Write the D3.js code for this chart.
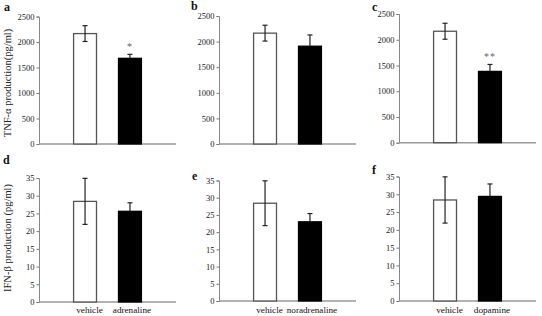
<!DOCTYPE html>
<html><head><meta charset="utf-8">
<script src="https://cdn.jsdelivr.net/npm/d3@7"></script>
<style>body{margin:0;background:#fff}svg{display:block}text{font-family:"Liberation Serif","Times New Roman",serif}</style>
</head><body><svg id="c" width="542" height="316"></svg>
<script>
const panelLetters = ["a","b","c","d","e","f"];
const agonists = ["adrenaline","noradrenaline","dopamine"];
const tnfMeans = [[2165,1680],[2165,1910],[2165,1385]];
const tnfErrors = [[155,78],[155,220],[155,135]];
const tnfSig = ["*","","**"];
const ifnMeans = [[28.4,25.6],[28.4,23.0],[28.4,29.4]];
const ifnErrors = [[6.5,2.4],[6.5,2.4],[6.5,3.5]];
const tnfTicks = [0,500,1000,1500,2000,2500];
const ifnTicks = [0,5,10,15,20,25,30,35];

const svg = d3.select("#c");
const axisX = [39,219,399];
const topRow = [[144,16.5],[144,16],[142.7,14]];
const botRow = [[302,178],[301,180.5],[301,176.5]];
const letterPos = [[4,11],[191,10],[372,10.5],[3,164],[192,180],[372,174]];

function panel(i, row) {
  const col = i % 3;
  const x0 = axisX[col];
  const isTop = row === 0;
  const [yb, yt] = isTop ? topRow[col] : botRow[col];
  const means = isTop ? tnfMeans[col] : ifnMeans[col];
  const errs = isTop ? tnfErrors[col] : ifnErrors[col];
  const cats = ["vehicle", agonists[col]];
  const y = d3.scaleLinear().domain([0, isTop ? 2500 : 35]).range([yb, yt]);
  const x = d3.scaleBand().domain(cats).range([x0, x0 + 137]).paddingInner(0.49).paddingOuter(0.77);
  const g = svg.append("g");
  const ax = g.append("g").attr("transform", `translate(${x0},0)`)
    .call(d3.axisLeft(y).tickValues(isTop ? tnfTicks : ifnTicks).tickFormat(d3.format("d")).tickSize(2.5).tickPadding(2));
  ax.select(".domain").attr("stroke", "#888").attr("stroke-width", 1);
  ax.selectAll(".tick line").attr("stroke", "#777");
  ax.selectAll(".tick text").attr("font-size", 8.5).attr("fill", "#222")
    .style("font-family", "'Liberation Serif',serif");
  g.append("line").attr("x1", x0).attr("x2", x0 + 137).attr("y1", yb).attr("y2", yb)
    .attr("stroke", "#999").attr("stroke-width", 1.5);
  g.selectAll("rect.bar").data(cats).join("rect")
    .attr("x", d => x(d)).attr("width", x.bandwidth())
    .attr("y", (d, k) => y(means[k])).attr("height", (d, k) => yb - y(means[k]))
    .attr("fill", (d, k) => k === 0 ? "#fff" : "#000")
    .attr("stroke", (d, k) => k === 0 ? "#555" : "#000").attr("stroke-width", 1.3);
  cats.forEach((d, k) => {
    const cx = x(d) + x.bandwidth() / 2;
    const lo = k === 0 ? means[k] - errs[k] : means[k];
    const hi = means[k] + errs[k];
    const eg = g.append("g").attr("stroke", "#222").attr("stroke-width", 1.2);
    eg.append("line").attr("x1", cx).attr("x2", cx).attr("y1", y(lo)).attr("y2", y(hi));
    eg.append("line").attr("x1", cx - 2.5).attr("x2", cx + 2.5).attr("y1", y(hi)).attr("y2", y(hi));
    if (k === 0) eg.append("line").attr("x1", cx - 2.5).attr("x2", cx + 2.5).attr("y1", y(lo)).attr("y2", y(lo));
  });
  if (isTop && tnfSig[col]) {
    const cx = x(cats[1]) + x.bandwidth() / 2;
    g.append("text").attr("x", cx).attr("y", y(means[1] + errs[1]) - 4)
      .attr("text-anchor", "middle").attr("font-size", 10).attr("fill", "#666")
      .attr("letter-spacing", 1).text(tnfSig[col]);
  }
  if (!isTop) {
    cats.forEach((d, k) => {
      g.append("text").attr("x", x(d) + x.bandwidth() / 2 + (k === 0 ? 4.5 : 2)).attr("y", 313)
        .attr("text-anchor", "middle").attr("font-size", 9.2).attr("fill", "#111").text(d);
    });
  }
  const lp = letterPos[i];
  svg.append("text").attr("x", lp[0]).attr("y", lp[1]).attr("font-size", 12)
    .attr("font-weight", "bold").attr("fill", "#111").text(panelLetters[i]);
}
for (let i = 0; i < 3; i++) panel(i, 0);
for (let i = 3; i < 6; i++) panel(i, 1);

svg.append("text").attr("transform", "translate(11,83) rotate(-90)")
  .attr("text-anchor", "middle").attr("font-size", 10.5).attr("fill", "#222")
  .text("TNF-α production(pg/ml)");
svg.append("text").attr("transform", "translate(11,238) rotate(-90)")
  .attr("text-anchor", "middle").attr("font-size", 10.5).attr("fill", "#222")
  .text("IFN-β production (pg/ml)");
</script></body></html>
